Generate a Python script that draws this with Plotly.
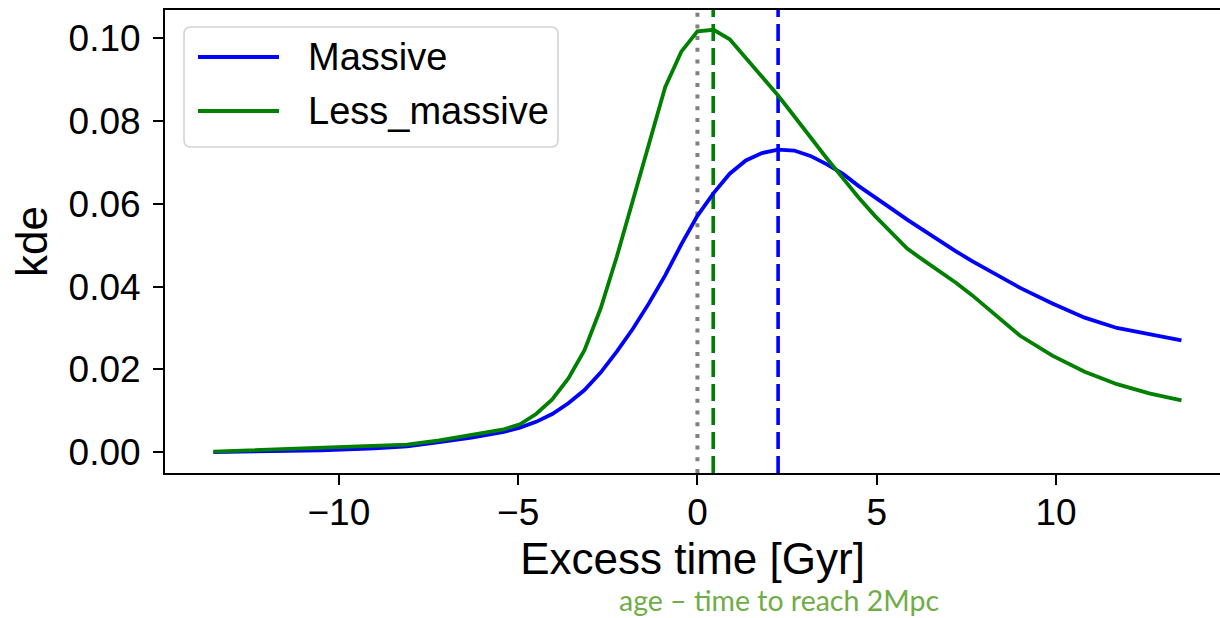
import plotly.graph_objects as go

# Kernel density estimates of the excess time (age - time to reach 2 Mpc)
excess_time_massive = [
    -13.5, -12.0, -10.5, -9.0, -8.1, -7.2, -6.3, -5.4, -4.95, -4.5, -4.05,
    -3.6, -3.15, -2.7, -2.25, -1.8, -1.35, -0.9, -0.45, 0.0, 0.45, 0.9,
    1.35, 1.8, 2.25, 2.7, 3.15, 3.6, 4.05, 4.5, 4.95, 5.4, 5.85, 6.3,
    6.75, 7.2, 7.65, 8.1, 8.55, 9.0, 9.9, 10.8, 11.7, 12.6, 13.5,
]
kde_massive = [
    0.0000, 0.0001, 0.0004, 0.0009, 0.0014, 0.0024, 0.0035, 0.0049, 0.0059,
    0.0073, 0.0092, 0.0118, 0.0150, 0.0192, 0.0243, 0.0298, 0.0360, 0.0427,
    0.0502, 0.0571, 0.0626, 0.0673, 0.0705, 0.0723, 0.0731, 0.0729, 0.0716,
    0.0696, 0.0673, 0.0643, 0.0615, 0.0589, 0.0562, 0.0536, 0.0510, 0.0486,
    0.0462, 0.0440, 0.0418, 0.0397, 0.0359, 0.0325, 0.0300, 0.0284, 0.0270,
]

excess_time_less = [
    -13.5, -12.0, -10.5, -9.0, -8.1, -7.2, -6.3, -5.4, -4.95, -4.5, -4.05,
    -3.6, -3.15, -2.7, -2.25, -1.8, -1.35, -0.9, -0.45, 0.0, 0.45, 0.9,
    1.35, 1.8, 2.25, 2.7, 3.15, 3.6, 4.05, 4.5, 4.95, 5.4, 5.85, 6.3,
    6.75, 7.2, 7.65, 8.1, 8.55, 9.0, 9.9, 10.8, 11.7, 12.6, 13.5,
]
kde_less = [
    0.0001, 0.0006, 0.0011, 0.0014, 0.0018, 0.0028, 0.0042, 0.0055, 0.0067,
    0.0092, 0.0127, 0.0178, 0.0246, 0.0347, 0.0472, 0.0607, 0.0749, 0.0882,
    0.0968, 0.1017, 0.1021, 0.0998, 0.0953, 0.0907, 0.0862, 0.0812, 0.0761,
    0.0711, 0.0663, 0.0615, 0.0571, 0.0530, 0.0492, 0.0464, 0.0437, 0.0410,
    0.0380, 0.0347, 0.0313, 0.0281, 0.0233, 0.0194, 0.0164, 0.0142, 0.0125,
]

# Medians of each distribution and the zero reference
median_massive = 2.25
median_less = 0.44
zero_ref = 0.0

series_names = ["Massive", "Less_massive"]
series_colors = ["#0000ff", "#008000"]

y_tick_vals = [0.00, 0.02, 0.04, 0.06, 0.08, 0.10]
y_tick_text = ["0.00", "0.02", "0.04", "0.06", "0.08", "0.10"]
x_tick_vals = [-10, -5, 0, 5, 10]

x_title = "Excess time [Gyr]"
y_title = "kde"
note_text = "age \u2013 time to reach 2Mpc"

# Figure geometry (pixels)
W, H = 1220, 618
L, R, T, B = 165, 0, 10, 145
plot_w = W - L - R
plot_h = H - T - B

FONT = "Liberation Sans, Arial, Helvetica, sans-serif"
LW = 3.8


def px_x(px):
    return (px - L) / plot_w


def px_y(py):
    return (H - B - py) / plot_h


fig = go.Figure()

fig.add_trace(go.Scatter(
    x=excess_time_massive, y=kde_massive, mode="lines", name=series_names[0],
    line=dict(color=series_colors[0], width=LW), showlegend=False,
))
fig.add_trace(go.Scatter(
    x=excess_time_less, y=kde_less, mode="lines", name=series_names[1],
    line=dict(color=series_colors[1], width=LW), showlegend=False,
))

shapes = [
    dict(type="line", xref="x", yref="paper", x0=zero_ref, x1=zero_ref,
         y0=0, y1=1, layer="below",
         line=dict(color="#808080", width=4, dash="4px,7.7px")),
    dict(type="line", xref="x", yref="paper", x0=median_less, x1=median_less,
         y0=0, y1=1, layer="below",
         line=dict(color=series_colors[1], width=3.6, dash="17px,7px")),
    dict(type="line", xref="x", yref="paper", x0=median_massive,
         x1=median_massive, y0=0, y1=1, layer="below",
         line=dict(color=series_colors[0], width=3.6, dash="17px,7px")),
]

# Legend frame with rounded corners
bx0, bx1, by0, by1, rad = 184, 558, 27, 147, 7
path = (
    f"M {px_x(bx0 + rad)},{px_y(by0)} L {px_x(bx1 - rad)},{px_y(by0)} "
    f"Q {px_x(bx1)},{px_y(by0)} {px_x(bx1)},{px_y(by0 + rad)} "
    f"L {px_x(bx1)},{px_y(by1 - rad)} "
    f"Q {px_x(bx1)},{px_y(by1)} {px_x(bx1 - rad)},{px_y(by1)} "
    f"L {px_x(bx0 + rad)},{px_y(by1)} "
    f"Q {px_x(bx0)},{px_y(by1)} {px_x(bx0)},{px_y(by1 - rad)} "
    f"L {px_x(bx0)},{px_y(by0 + rad)} "
    f"Q {px_x(bx0)},{px_y(by0)} {px_x(bx0 + rad)},{px_y(by0)} Z"
)
shapes.append(dict(type="path", xref="paper", yref="paper", path=path,
                   fillcolor="rgba(255,255,255,0.8)",
                   line=dict(color="#d3d3d3", width=1.6), layer="above"))

annotations = []
legend_rows = [57, 111]
for name, color, ry in zip(series_names, series_colors, legend_rows):
    shapes.append(dict(type="line", xref="paper", yref="paper",
                       x0=px_x(198), x1=px_x(279), y0=px_y(ry), y1=px_y(ry),
                       line=dict(color=color, width=LW), layer="above"))
    annotations.append(dict(xref="paper", yref="paper", x=px_x(306),
                            y=px_y(ry), text=name, showarrow=False,
                            xanchor="left", yanchor="middle",
                            font=dict(family=FONT, size=38, color="black")))

annotations.append(dict(xref="paper", yref="paper", x=px_x(779),
                        y=px_y(600), text=note_text, showarrow=False,
                        xanchor="center", yanchor="middle",
                        font=dict(family="Lato, Open Sans, sans-serif",
                                  size=28.5, color="#70ad47")))

fig.update_layout(
    width=W, height=H,
    margin=dict(l=L, r=R, t=T, b=B, pad=0),
    paper_bgcolor="white", plot_bgcolor="white",
    shapes=shapes, annotations=annotations,
    showlegend=False,
    font=dict(family=FONT, color="black"),
)

fig.update_xaxes(
    range=[-14.85, 14.575], tickvals=x_tick_vals,
    showgrid=False, zeroline=False,
    showline=True, linecolor="black", linewidth=2, mirror=True,
    ticks="outside", ticklen=10, tickwidth=1.6, tickcolor="black",
    tickfont=dict(family=FONT, size=37, color="black"),
    ticklabelstandoff=-4,
    title=dict(text=x_title, font=dict(family=FONT, size=44, color="black"),
               standoff=11),
)
fig.update_yaxes(
    range=[-0.00507, 0.10688], tickvals=y_tick_vals, ticktext=y_tick_text,
    showgrid=False, zeroline=False,
    showline=True, linecolor="black", linewidth=2, mirror=False,
    ticks="outside", ticklen=10, tickwidth=1.6, tickcolor="black",
    tickfont=dict(family=FONT, size=37, color="black"),
    ticklabelstandoff=5,
    title=dict(text=y_title, font=dict(family=FONT, size=44, color="black"),
               standoff=7),
)

fig.write_html("out.html")
